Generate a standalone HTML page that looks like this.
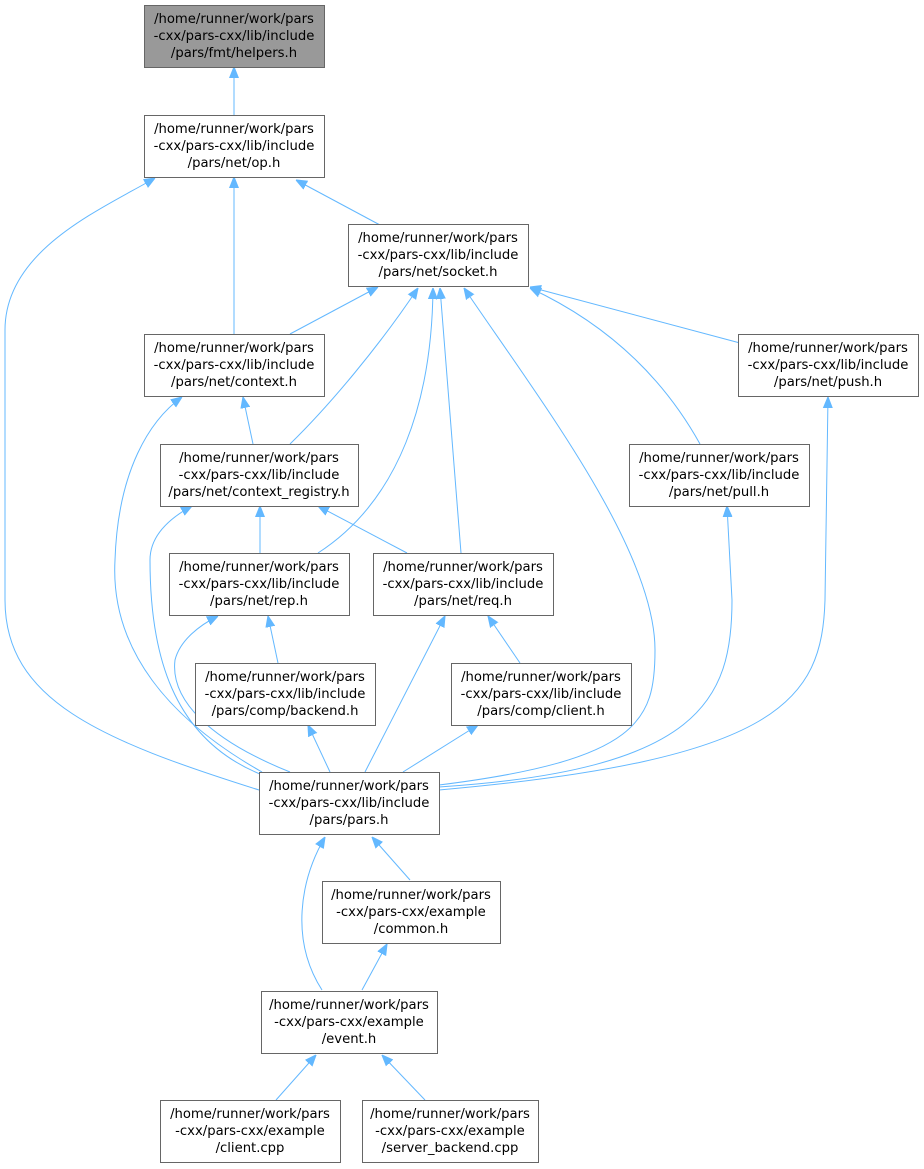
<!DOCTYPE html>
<html><head><meta charset="utf-8"><style>
html,body{margin:0;padding:0;background:#fff;}
svg{display:block;}
text{font-family:"DejaVu Sans","Liberation Sans",sans-serif;font-size:13.2px;fill:#000;}
.b{fill:#fff;stroke:#666;stroke-width:1;}
.e{fill:none;stroke:#63b8ff;stroke-width:1;}
</style></head><body>
<svg width="924" height="1169" viewBox="0 0 924 1169" xmlns="http://www.w3.org/2000/svg">
<defs><marker id="a" viewBox="0 0 10 10" refX="10" refY="5" markerWidth="11" markerHeight="11" markerUnits="userSpaceOnUse" orient="auto"><path d="M0,1 L10,5 L0,9 z" fill="#63b8ff" stroke="#63b8ff"/></marker></defs>
<g class="e" marker-end="url(#a)">
<path d="M234,115 L234,67"/>
<path d="M380,225 L296,180"/>
<path d="M234,334 L234,177"/>
<path d="M259,790 C100,740 5,700 5,600 L5,330 C5,250 100,210 155,178"/>
<path d="M290,334 L378,287"/>
<path d="M290,444 C330,405 380,345 418,288"/>
<path d="M318,553 C400,500 432,400 433,288"/>
<path d="M461,553 L440,288"/>
<path d="M439,785 C640,760 655,720 655,650 C655,550 540,400 464,288"/>
<path d="M700,444 C670,390 620,330 530,288"/>
<path d="M740,343 L530,287"/>
<path d="M253,444 L243,397"/>
<path d="M262,772 C170,720 110,650 115,560 C118,470 150,420 182,397"/>
<path d="M265,776 C170,740 150,650 150,560 C150,535 170,518 192,506"/>
<path d="M260,553 L260,506"/>
<path d="M407,553 L318,506"/>
<path d="M290,772 C210,740 170,700 175,660 C180,640 200,625 218,616"/>
<path d="M278,663 L268,616"/>
<path d="M520,663 L488,616"/>
<path d="M365,772 L445,616"/>
<path d="M330,772 L308,725"/>
<path d="M403,772 L478,725"/>
<path d="M439,787 C700,770 732,700 732,600 L727,506"/>
<path d="M439,790 C780,760 822,700 825,600 L828,397"/>
<path d="M410,880 L372,837"/>
<path d="M322,990 C290,940 300,880 325,837"/>
<path d="M362,990 L387,944"/>
<path d="M276,1100 L316,1055"/>
<path d="M425,1100 L382,1055"/>
</g>
<g text-anchor="middle">
<rect x="144.5" y="5.5" width="180" height="62" fill="#999" stroke="#666"/>
<text x="234" y="23">/home/runner/work/pars</text><text x="234" y="40">-cxx/pars-cxx/lib/include</text><text x="234" y="57">/pars/fmt/helpers.h</text>

<rect class="b" x="144.5" y="115.5" width="180" height="62"/>
<text x="234" y="133">/home/runner/work/pars</text><text x="234" y="150">-cxx/pars-cxx/lib/include</text><text x="234" y="167">/pars/net/op.h</text>

<rect class="b" x="348.5" y="224.5" width="180" height="62"/>
<text x="438" y="242">/home/runner/work/pars</text><text x="438" y="259">-cxx/pars-cxx/lib/include</text><text x="438" y="276">/pars/net/socket.h</text>

<rect class="b" x="144.5" y="334.5" width="180" height="62"/>
<text x="234" y="352">/home/runner/work/pars</text><text x="234" y="369">-cxx/pars-cxx/lib/include</text><text x="234" y="386">/pars/net/context.h</text>

<rect class="b" x="738.5" y="334.5" width="180" height="62"/>
<text x="828" y="352">/home/runner/work/pars</text><text x="828" y="369">-cxx/pars-cxx/lib/include</text><text x="828" y="386">/pars/net/push.h</text>

<rect class="b" x="160.5" y="444.5" width="198" height="62"/>
<text x="259" y="462">/home/runner/work/pars</text><text x="259" y="479">-cxx/pars-cxx/lib/include</text><text x="259" y="496">/pars/net/context_registry.h</text>

<rect class="b" x="629.5" y="444.5" width="180" height="62"/>
<text x="719" y="462">/home/runner/work/pars</text><text x="719" y="479">-cxx/pars-cxx/lib/include</text><text x="719" y="496">/pars/net/pull.h</text>

<rect class="b" x="169.5" y="553.5" width="180" height="62"/>
<text x="259" y="571">/home/runner/work/pars</text><text x="259" y="588">-cxx/pars-cxx/lib/include</text><text x="259" y="605">/pars/net/rep.h</text>

<rect class="b" x="373.5" y="553.5" width="180" height="62"/>
<text x="463" y="571">/home/runner/work/pars</text><text x="463" y="588">-cxx/pars-cxx/lib/include</text><text x="463" y="605">/pars/net/req.h</text>

<rect class="b" x="195.5" y="663.5" width="180" height="62"/>
<text x="285" y="681">/home/runner/work/pars</text><text x="285" y="698">-cxx/pars-cxx/lib/include</text><text x="285" y="715">/pars/comp/backend.h</text>

<rect class="b" x="451.5" y="663.5" width="180" height="62"/>
<text x="541" y="681">/home/runner/work/pars</text><text x="541" y="698">-cxx/pars-cxx/lib/include</text><text x="541" y="715">/pars/comp/client.h</text>

<rect class="b" x="259.5" y="772.5" width="180" height="62"/>
<text x="349" y="790">/home/runner/work/pars</text><text x="349" y="807">-cxx/pars-cxx/lib/include</text><text x="349" y="824">/pars/pars.h</text>

<rect class="b" x="322.5" y="881.5" width="178" height="62"/>
<text x="411" y="899">/home/runner/work/pars</text><text x="411" y="916">-cxx/pars-cxx/example</text><text x="411" y="933">/common.h</text>

<rect class="b" x="261.5" y="991.5" width="176" height="62"/>
<text x="349" y="1009">/home/runner/work/pars</text><text x="349" y="1026">-cxx/pars-cxx/example</text><text x="349" y="1043">/event.h</text>

<rect class="b" x="160.5" y="1100.5" width="180" height="62"/>
<text x="250" y="1118">/home/runner/work/pars</text><text x="250" y="1135">-cxx/pars-cxx/example</text><text x="250" y="1152">/client.cpp</text>

<rect class="b" x="362.5" y="1100.5" width="176" height="62"/>
<text x="450" y="1118">/home/runner/work/pars</text><text x="450" y="1135">-cxx/pars-cxx/example</text><text x="450" y="1152">/server_backend.cpp</text>
</g>
</svg>
</body></html>
